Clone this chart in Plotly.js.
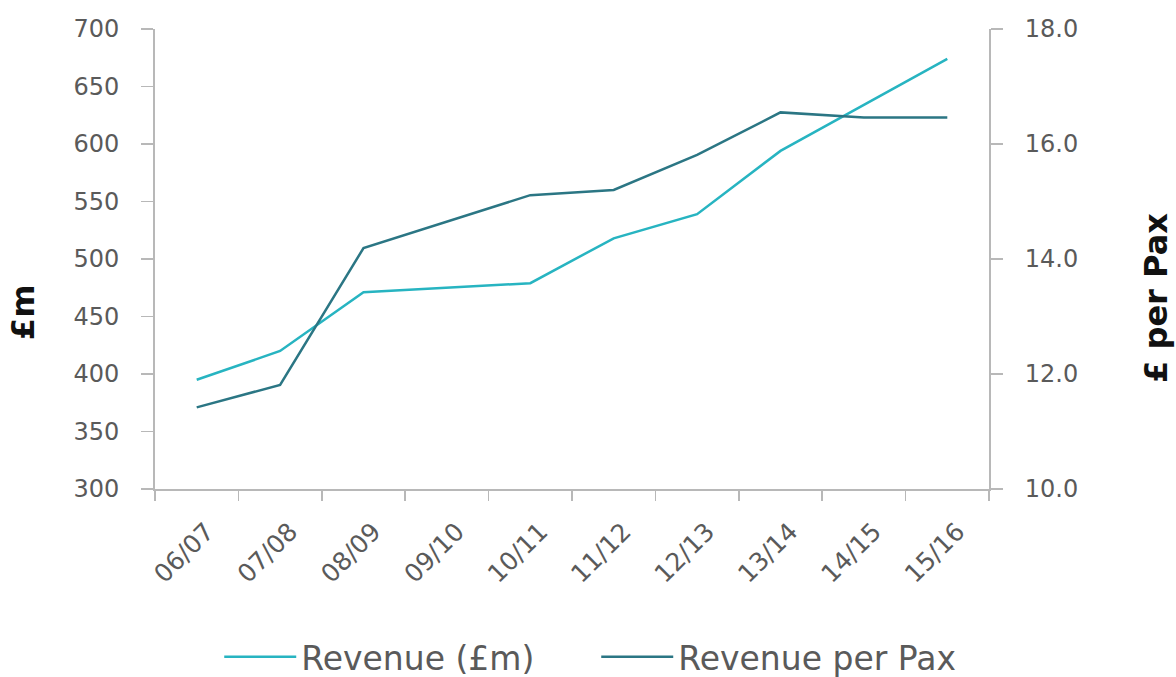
<!DOCTYPE html>
<html>
<head>
<meta charset="utf-8">
<script src="https://cdn.plot.ly/plotly-3.0.1.min.js"></script>
<style>
  html, body { margin: 0; padding: 0; background: #fff; }
  #chart { width: 1176px; height: 677px; }
</style>
</head>
<body>
<div id="chart"></div>
<script>
const years = ['06/07', '07/08', '08/09', '09/10', '10/11', '11/12', '12/13', '13/14', '14/15', '15/16'];
const revenue = [395, 420, 471, 475, 479, 518, 539, 594, 634, 674];
const revenuePerPax = [11.42, 11.81, 14.19, 14.65, 15.11, 15.2, 15.81, 16.55, 16.46, 16.46];

const font = 'DejaVu Sans, Open Sans, sans-serif';
const axisColor = '#b8b8b8';
const textColor = '#5a5a5a';

const revTrace = {
  x: years,
  y: revenue,
  name: 'Revenue (£m)',
  type: 'scatter',
  mode: 'lines',
  line: { color: '#27b4c1', width: 2.5 },
  yaxis: 'y'
};

const paxTrace = {
  x: years,
  y: revenuePerPax,
  name: 'Revenue per Pax',
  type: 'scatter',
  mode: 'lines',
  line: { color: '#2b7684', width: 2.5 },
  yaxis: 'y2'
};

// axis titles sit a little below the axis middle in the original, so use annotations
const titleFont = { family: font, size: 32, color: '#111' };

const layout = {
  width: 1176,
  height: 677,
  margin: { t: 29, l: 155, r: 187, b: 188 },
  paper_bgcolor: '#fff',
  plot_bgcolor: '#fff',
  font: { family: font, color: textColor },
  showlegend: true,
  legend: {
    orientation: 'h',
    xref: 'container',
    yref: 'container',
    x: 0.507,
    xanchor: 'center',
    y: 0.03,
    yanchor: 'middle',
    font: { size: 33, color: textColor },
    traceorder: 'normal',
    itemwidth: 72,
    entrywidth: 290,
    entrywidthmode: 'pixels'
  },
  xaxis: {
    type: 'category',
    tickson: 'boundaries',
    ticks: 'outside',
    ticklen: 10,
    tickcolor: axisColor,
    tickwidth: 1.5,
    showline: true,
    linecolor: axisColor,
    linewidth: 2,
    showgrid: false,
    zeroline: false,
    tickangle: -45,
    tickfont: { size: 25, color: textColor },
    ticklabelstandoff: 16,
    ticklabelshift: 10,
    range: [-0.5, 9.5]
  },
  yaxis: {
    range: [300, 700],
    dtick: 50,
    ticks: 'outside',
    ticklen: 12,
    tickcolor: axisColor,
    tickwidth: 1.5,
    showline: true,
    linecolor: axisColor,
    linewidth: 2,
    showgrid: false,
    zeroline: false,
    tickfont: { size: 24, color: textColor },
    ticklabelstandoff: 17
  },
  yaxis2: {
    overlaying: 'y',
    side: 'right',
    range: [10, 18],
    dtick: 2,
    tickformat: '.1f',
    ticks: 'outside',
    ticklen: 12,
    tickcolor: axisColor,
    tickwidth: 1.5,
    showline: true,
    linecolor: axisColor,
    linewidth: 2,
    showgrid: false,
    zeroline: false,
    tickfont: { size: 24, color: textColor },
    ticklabelstandoff: 17
  },
  annotations: [
    {
      text: '<b>£m</b>', textangle: -90, showarrow: false,
      xref: 'paper', yref: 'paper', x: -0.158, y: 0.385,
      xanchor: 'center', yanchor: 'middle', font: titleFont
    },
    {
      text: '<b>£ per Pax</b>', textangle: -90, showarrow: false,
      xref: 'paper', yref: 'paper', x: 1.2, y: 0.415,
      xanchor: 'center', yanchor: 'middle', font: titleFont
    }
  ]
};

Plotly.newPlot('chart', [revTrace, paxTrace], layout, { displayModeBar: false, staticPlot: true });
</script>
</body>
</html>
